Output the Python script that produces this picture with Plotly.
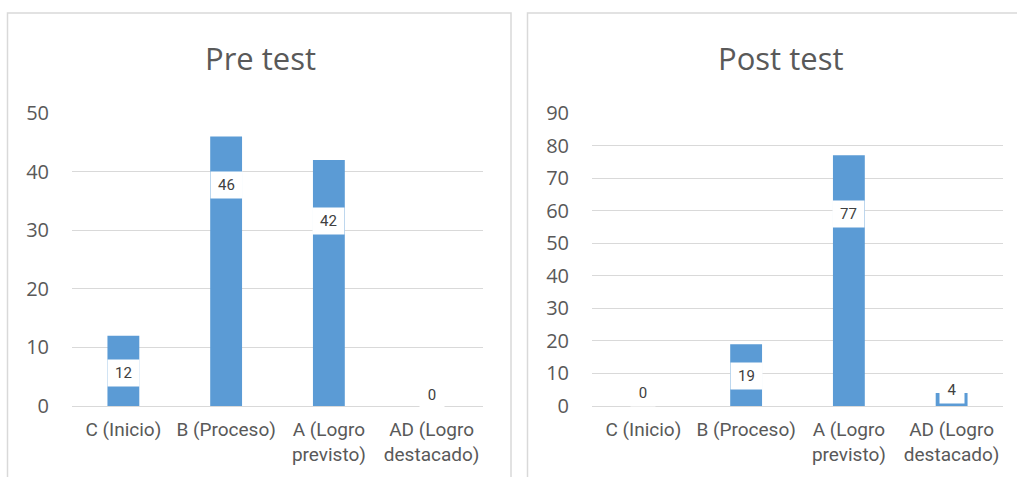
import plotly.graph_objects as go

categories = ["C (Inicio)", "B (Proceso)", "A (Logro<br>previsto)", "AD (Logro<br>destacado)"]
pre_values = [12, 46, 42, 0]
post_values = [0, 19, 77, 4]
pre_title = "Pre test"
post_title = "Post test"
pre_ticks = [0, 10, 20, 30, 40, 50]
post_ticks = [0, 10, 20, 30, 40, 50, 60, 70, 80, 90]

# label anchor placement (layout, in axis units)
pre_label_pos = [5.6, 37.7, 31.6, 1.9]
post_label_pos = [4.0, 9.2, 59.0, 4.8]

W, H = 1017, 477
BAR = "#5B9BD5"
GRID = "#d9d9d9"
TXT = "#595959"
CAT_FONT = "Roboto, Liberation Sans, Arial"

def px_x(p):
    return p / W

def px_y(p):
    return 1 - p / H

fig = go.Figure()
fig.add_trace(go.Bar(x=categories, y=pre_values, marker_color=BAR, marker_line_width=0,
                     xaxis="x", yaxis="y", showlegend=False, hoverinfo="skip"))
fig.add_trace(go.Bar(x=categories, y=post_values, marker_color=BAR, marker_line_width=0,
                     xaxis="x2", yaxis="y2", showlegend=False, hoverinfo="skip"))

ydom = [px_y(406), px_y(113)]
common_x = dict(showgrid=False, zeroline=False, showline=False, ticks="",
                tickfont=dict(family=CAT_FONT, size=19, color=TXT),
                ticklabelstandoff=10, fixedrange=True, automargin=False)
common_y = dict(showgrid=True, gridcolor=GRID, gridwidth=1.3, zeroline=True,
                zerolinecolor=GRID, zerolinewidth=1.3, showline=False,
                tickfont=dict(family="Open Sans", size=20, color=TXT),
                ticklabelstandoff=22, fixedrange=True, automargin=False)

fig.update_layout(
    width=W, height=H, autosize=False, margin=dict(l=0, r=0, t=0, b=0, pad=0),
    paper_bgcolor="white", plot_bgcolor="white", bargap=0.69,
    xaxis=dict(domain=[px_x(72), px_x(483)], anchor="y", **common_x),
    xaxis2=dict(domain=[px_x(592), px_x(1003)], anchor="y2", **common_x),
    yaxis=dict(domain=ydom, anchor="x", range=[0, 50], tickvals=pre_ticks, **common_y),
    yaxis2=dict(domain=ydom, anchor="x2", range=[0, 90], tickvals=post_ticks, **common_y),
)

shapes = [
    dict(type="rect", xref="paper", yref="paper", x0=px_x(7.5), x1=px_x(511), y0=-0.1, y1=px_y(13),
         line=dict(color=GRID, width=1.5), fillcolor="rgba(0,0,0,0)", layer="below"),
    dict(type="rect", xref="paper", yref="paper", x0=px_x(527.5), x1=1.1, y0=-0.1, y1=px_y(13),
         line=dict(color=GRID, width=1.5), fillcolor="rgba(0,0,0,0)", layer="below"),
]
fig.update_layout(shapes=shapes)

annotations = [
    dict(text=pre_title, xref="paper", yref="paper", x=px_x(260), y=px_y(58), showarrow=False,
         xanchor="center", yanchor="middle", font=dict(family="Open Sans", size=31, color=TXT)),
    dict(text=post_title, xref="paper", yref="paper", x=px_x(780), y=px_y(58), showarrow=False,
         xanchor="center", yanchor="middle", font=dict(family="Open Sans", size=31, color=TXT)),
]

def add_labels(values, pos, xr, yr):
    for cat, v, p in zip(categories, values, pos):
        txt = str(v)
        annotations.append(dict(
            text=txt, x=cat, y=p, xref=xr, yref=yr, showarrow=False,
            xanchor="center", yanchor="middle", bgcolor="white",
            width=31 if len(txt) > 1 else 24, height=26, borderpad=0,
            font=dict(family=CAT_FONT, size=15, color="#404040")))

add_labels(pre_values, pre_label_pos, "x", "y")
add_labels(post_values, post_label_pos, "x2", "y2")
fig.update_layout(annotations=annotations)

fig.write_html("out.html", config={"responsive": False, "displayModeBar": False},
               post_script="document.body.style.margin='0';document.body.style.padding='0';")
